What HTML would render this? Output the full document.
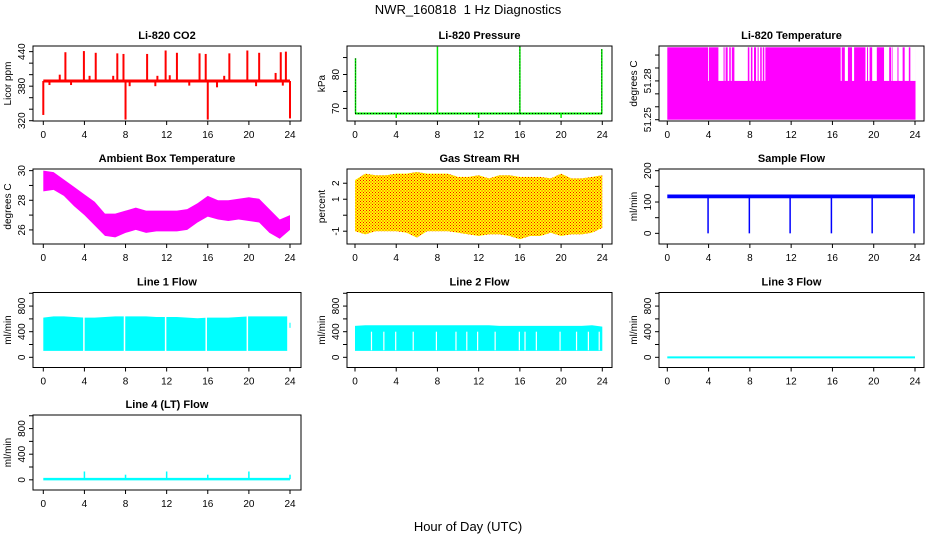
<!DOCTYPE html>
<html><head><meta charset="utf-8"><style>
html,body{margin:0;padding:0;background:#fff}
svg{display:block;font-family:"Liberation Sans",Arial,sans-serif}
</style></head><body>
<svg id="chart" width="936" height="540" viewBox="0 0 936 540" xmlns="http://www.w3.org/2000/svg">
<defs>
<pattern id="rhpat" width="3" height="3" patternUnits="userSpaceOnUse">
<rect width="3" height="3" fill="#ffff00"/><rect x="0" y="0" width="1" height="1" fill="#ff0000"/><rect x="1.5" y="1.5" width="1" height="1" fill="#ff0000"/>
</pattern>
</defs>
<text x="468" y="14" text-anchor="middle" font-size="13">NWR_160818&#160; 1 Hz Diagnostics</text>
<text x="468" y="531" text-anchor="middle" font-size="13">Hour of Day (UTC)</text>
<g id="panels"></g>
</svg>
<script>
// ---- data ----
const xTicks = [0,4,8,12,16,20,24];
const co2Base = 389;
const co2SpikeHours = [2.15,3.95,5.1,7.2,7.8,10.1,11.9,13.0,15.2,15.8,18.1,19.85,21.0,23.1,23.6,1.6,4.5,6.8,11.1,12.3,17.6,22.6,0.0,8.0,16.0,24.0,0.6,2.7,8.4,10.9,14.2,16.9,20.7,23.3];
const co2SpikeVals  = [439,441,438,437,436,436,442,438,437,436,437,442,438,439,440,400,398,398,398,399,398,403,330,322,322,324,382,382,380,380,381,378,380,381];
const presBase = 68.5;
const presSpikeHours = [0.05,8.0,16.0,23.95,4.0,12.0,20.0];
const presSpikeVals  = [84.8,88.2,88.2,87.5,67.2,67.2,67.2];
const tempLow = 51.25, tempHigh = 51.306, tempMid = 51.28;
const tempDipStart = [3.95,4.95,5.55,5.85,6.15,6.5,7.95,8.25,8.6,8.85,9.15,9.4,16.8,17.2,17.9,19.2,19.45,19.85,21.0,21.7,21.85,22.4,23.0,23.55];
const tempDipEnd   = [4.02,5.45,5.65,6.0,6.25,7.8,8.1,8.4,8.75,9.0,9.25,9.5,16.9,17.5,18.1,19.35,19.6,20.3,21.5,21.8,22.3,22.8,23.4,24.05];
const hours = [0,1,2,3,4,5,6,7,8,9,10,11,12,13,14,15,16,17,18,19,20,21,22,23,24];
const ambHi = [30.0,29.9,29.4,28.9,28.4,27.9,27.1,27.1,27.3,27.5,27.3,27.3,27.3,27.3,27.4,27.8,28.3,28.0,28.0,28.1,28.2,28.1,27.4,26.7,27.0];
const ambLo = [28.6,28.7,28.3,27.6,27.0,26.3,25.6,25.5,25.8,26.0,25.8,25.9,25.9,25.9,26.0,26.5,26.9,26.7,26.6,26.7,26.6,26.5,25.8,25.4,26.0];
const rhHi = [2.2,2.6,2.5,2.5,2.6,2.6,2.7,2.6,2.6,2.6,2.4,2.4,2.5,2.3,2.5,2.5,2.4,2.4,2.4,2.3,2.6,2.3,2.3,2.4,2.5];
const rhLo = [-1.0,-1.2,-1.0,-1.0,-1.0,-1.1,-1.4,-1.0,-1.0,-1.0,-1.1,-1.2,-1.3,-1.2,-1.2,-1.3,-1.5,-1.3,-1.3,-1.1,-1.3,-1.2,-1.2,-1.1,-0.8];
const sampleBase = 118;
const sampleDipHours = [3.95,7.95,11.9,15.9,19.85,23.9];
const sampleDipVals  = [0,0,0,0,0,0];
const line1Hi = [620,640,640,630,620,620,630,640,640,640,640,630,630,630,620,610,620,620,620,630,640,640,640,640,540];
const line1Lo = 100;
const line1Gaps = [3.95,7.9,11.9,15.85,19.85,23.8];
const line2Hi = [490,500,500,500,500,500,500,500,500,500,500,500,500,500,490,490,490,490,490,490,490,490,490,500,480];
const line2Lo = 100;
const line2Gaps = [1.6,2.8,3.95,5.65,7.9,9.8,10.85,11.9,13.6,15.95,16.5,17.6,19.9,21.5,22.65,23.7];
const line3Base = 0;
const line4Base = 10;
const line4SpikeHours = [4,8,12,16,20,24];
const line4SpikeVals  = [130,80,130,80,130,80];

// ---- layout ----
const colL=[33,347,659], colR=[301,612,924], colX0=[43.3,355,667.3], colX24=[290,602.3,915];
const rowT=[46,169,292.5,415], H=75;
const NS="http://www.w3.org/2000/svg";
const root=document.getElementById('panels');
function mk(tag,attrs,parent){const e=document.createElementNS(NS,tag);for(const k in attrs)e.setAttribute(k,attrs[k]);(parent||root).appendChild(e);return e;}

function panel(c,r,title,ylab,ymin,ymax,yt,ytl,name,draw){
  const g=mk('g',{});
  
  
  const L=colL[c],R=colR[c],T=rowT[r],B=T+H;
  const sx=h=>colX0[c]+h*(colX24[c]-colX0[c])/24;
  const sy=v=>T+(ymax-v)/(ymax-ymin)*H;
  const dg=mk('g',{},g);
  
  
  draw(dg,sx,sy,T,B);
  const box=mk('rect',{x:L,y:T,width:R-L,height:H,fill:'none',stroke:'#000','stroke-width':1},g);
  
  
  const t=mk('text',{x:(L+R)/2,y:T-7,'text-anchor':'middle','font-size':11,'font-weight':'bold'},g);
  t.textContent=title;
  
  
  const xa=mk('g',{},g);
  
  
  xTicks.forEach(h=>{
    mk('line',{x1:sx(h),x2:sx(h),y1:B,y2:B+4,stroke:'#000'},xa);
    const tl=mk('text',{x:sx(h),y:B+17,'text-anchor':'middle','font-size':10},xa);
    tl.textContent=h;
  });
  const ya=mk('g',{},g);
  
  
  yt.forEach((v,i)=>{
    const y=sy(v);
    mk('line',{x1:L-4,x2:L,y1:y,y2:y,stroke:'#000'},ya);
    if(ytl[i]!==''){
      const tl=mk('text',{x:0,y:0,'text-anchor':'middle','font-size':10,transform:`translate(${L-8},${y}) rotate(-90)`},ya);
      tl.textContent=ytl[i];
    }
  });
  const yl=mk('text',{x:0,y:0,'text-anchor':'middle','font-size':10,transform:`translate(${L-22},${(T+B)/2}) rotate(-90)`},g);
  yl.textContent=ylab;
  
  
}
function vline(g,x,y1,y2,col,w){return mk('line',{x1:x,x2:x,y1:y1,y2:y2,stroke:col,'stroke-width':w},g);}
function band(g,sx,sy,xs,hi,lo,fill){
  let pts=xs.map((h,i)=>sx(h)+','+sy(hi[i]));
  for(let i=xs.length-1;i>=0;i--)pts.push(sx(xs[i])+','+sy(Array.isArray(lo)?lo[i]:lo));
  return mk('polygon',{points:pts.join(' '),fill:fill},g);
}

panel(0,0,'Li-820 CO2','Licor ppm',319.5,449.8,[320,340,360,380,400,420,440],['320','','','380','','','440'],'co2',(g,sx,sy)=>{
  co2SpikeHours.forEach((h,i)=>vline(g,sx(h),sy(co2Base),sy(co2SpikeVals[i]),'#ff0000',2));
  mk('line',{x1:sx(0),x2:sx(24),y1:sy(co2Base),y2:sy(co2Base),stroke:'#ff0000','stroke-width':3},g);
});
panel(1,0,'Li-820 Pressure','kPa',66.3,88.4,[70,75,80,85],['70','','80',''],'pressure',(g,sx,sy)=>{
  presSpikeHours.forEach((h,i)=>vline(g,sx(h),sy(presBase),sy(presSpikeVals[i]),'#00ee00',1.5));
  mk('line',{x1:sx(0),x2:sx(24),y1:sy(presBase),y2:sy(presBase),stroke:'#00ee00','stroke-width':2},g);
  mk('line',{x1:sx(0),x2:sx(24),y1:sy(presBase),y2:sy(presBase),stroke:'#000','stroke-width':1,'stroke-dasharray':'1,2'},g);
  [0,2,3].forEach(i=>vline(g,sx(presSpikeHours[i]),sy(presBase),sy(presSpikeVals[i]),'#000',0.8).setAttribute('stroke-dasharray','1,2'));
});
panel(2,0,'Li-820 Temperature','degrees C',51.249,51.307,[51.25,51.26,51.27,51.28,51.29,51.30],['51.25','','','51.28','',''],'li820-temperature',(g,sx,sy)=>{
  mk('rect',{x:sx(0),y:sy(tempHigh),width:sx(24.05)-sx(0),height:sy(tempLow)-sy(tempHigh),fill:'#ff00ff'},g);
  tempDipStart.forEach((s,i)=>mk('rect',{x:sx(s),y:sy(tempHigh)-0.5,width:Math.max(0.8,sx(tempDipEnd[i])-sx(s)),height:sy(tempMid)-sy(tempHigh)+0.5,fill:'#fff'},g));
});
panel(0,1,'Ambient Box Temperature','degrees C',25.05,30.11,[26,27,28,29,30],['26','','28','','30'],'ambient-temperature',(g,sx,sy)=>{
  band(g,sx,sy,hours,ambHi,ambLo,'#ff00ff');
});
panel(1,1,'Gas Stream RH','percent',-1.8,2.89,[-1,0,1,2],['-1','','1','2'],'gas-stream-rh',(g,sx,sy)=>{
  band(g,sx,sy,hours,rhHi,rhLo,'url(#rhpat)');
});
panel(2,1,'Sample Flow','ml/min',-34,205.4,[0,50,100,150,200],['0','','100','','200'],'sample-flow',(g,sx,sy)=>{
  sampleDipHours.forEach((h,i)=>vline(g,sx(h),sy(sampleBase),sy(sampleDipVals[i]),'#0000ff',1.5));
  mk('rect',{x:sx(0),y:sy(sampleBase+6),width:sx(24)-sx(0),height:sy(sampleBase-6)-sy(sampleBase+6),fill:'#0000ff'},g);
});
const flowT=[0,200,400,600,800,1000], flowL=['0','','400','','800',''];
panel(0,2,'Line 1 Flow','ml/min',-159,1012,flowT,flowL,'line1-flow',(g,sx,sy)=>{
  band(g,sx,sy,hours.slice(0,24).concat([23.8]),line1Hi.slice(0,24).concat([640]),line1Lo,'#00ffff');
  mk('rect',{x:sx(23.95),y:sy(line1Hi[24]),width:sx(24.05)-sx(23.95),height:sy(460)-sy(line1Hi[24]),fill:'#00ffff'},g);
  line1Gaps.forEach(h=>vline(g,sx(h),sy(700),sy(line1Lo-10),'#fff',1.5));
});
panel(1,2,'Line 2 Flow','ml/min',-159,1012,flowT,flowL,'line2-flow',(g,sx,sy)=>{
  band(g,sx,sy,hours,line2Hi,line2Lo,'#00ffff');
  line2Gaps.forEach(h=>vline(g,sx(h),sy(400),sy(line2Lo+10),'#fff',1.2));
});
panel(2,2,'Line 3 Flow','ml/min',-159,1012,flowT,flowL,'line3-flow',(g,sx,sy)=>{
  mk('line',{x1:sx(0),x2:sx(24),y1:sy(line3Base),y2:sy(line3Base),stroke:'#00ffff','stroke-width':2},g);
});
panel(0,3,'Line 4 (LT) Flow','ml/min',-159,1012,flowT,flowL,'line4-flow',(g,sx,sy)=>{
  line4SpikeHours.forEach((h,i)=>vline(g,sx(h),sy(line4Base),sy(line4SpikeVals[i]),'#00ffff',1.5));
  mk('line',{x1:sx(0),x2:sx(24),y1:sy(line4Base),y2:sy(line4Base),stroke:'#00ffff','stroke-width':2.5},g);
});
</script>
</body></html>
